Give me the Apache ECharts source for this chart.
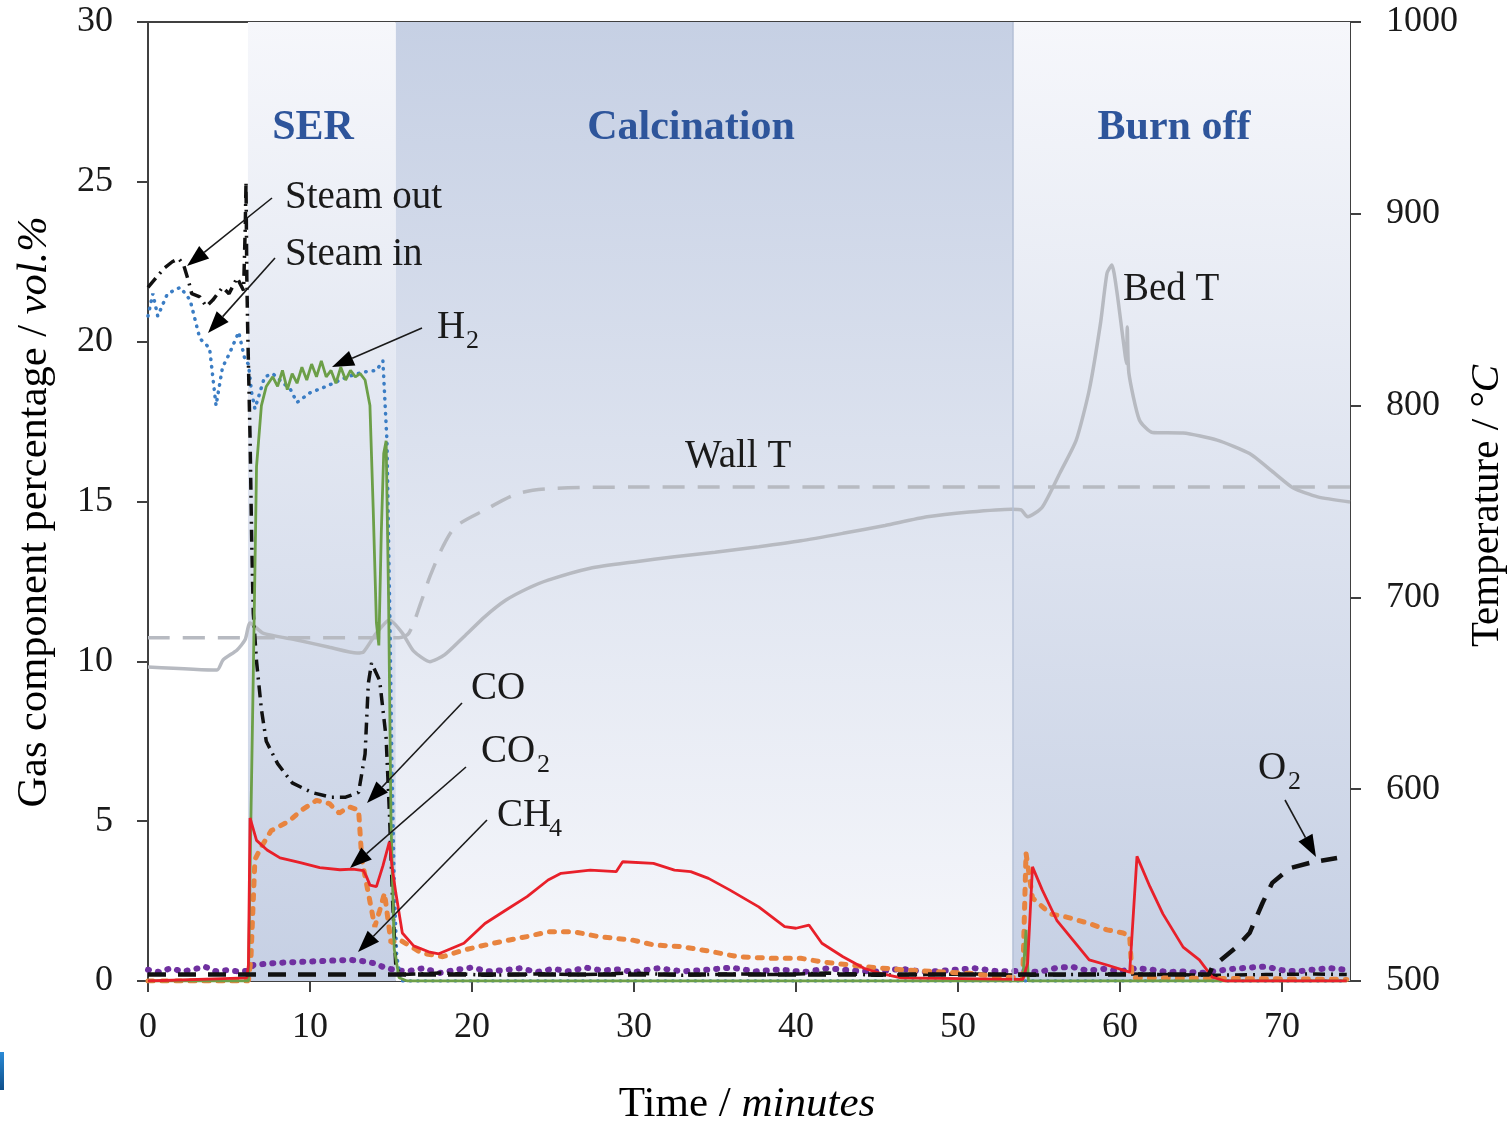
<!DOCTYPE html>
<html>
<head>
<meta charset="utf-8">
<title>Gas composition and temperature</title>
<script src="https://cdn.jsdelivr.net/npm/echarts@6/dist/echarts.min.js"></script>
<style>
html, body { margin: 0; padding: 0; background: #fff; }
#chart { width: 1511px; height: 1124px; }
</style>
</head>
<body>
<div id="chart"></div>
<script>
// x ticks
const timeTicks = [0, 10, 20, 30, 40, 50, 60, 70];

// process stages (minutes)
const stageNames = ['SER', 'Calcination', 'Burn off'];
const stageStart = [6.17, 15.3, 53.4];
const stageEnd = [15.3, 53.4, 74.2];

// Steam out
const steamOutT = [0, 0.5, 1.0, 1.5, 1.9, 2.2, 2.5, 2.7, 3.2, 3.6, 4.0, 4.6, 5.0, 5.5, 5.9,
  6.0, 6.05, 6.1, 6.15, 6.2, 6.3, 6.4, 6.5, 6.7, 7.0, 7.3, 8.0, 8.9, 10.1, 11.3,
  12.2, 13.0, 13.4, 13.6, 13.8, 14.3, 14.7, 14.9, 15.1, 15.3, 15.6, 18, 21, 24, 27,
  30, 33, 36, 39, 42, 45, 48, 51, 54, 57, 60, 63, 66, 69, 72, 74];
const steamOutV = [21.7, 22.0, 22.3, 22.5, 22.6, 22.4, 21.9, 21.5, 21.4, 21.1, 21.3, 21.7, 21.5, 22.0, 21.6,
  23.5, 25.0, 22.0, 20.5, 19.3, 17.0, 13.8, 11.5, 10.0, 8.5, 7.5, 6.8, 6.2, 5.9, 5.75,
  5.75, 5.9, 7.1, 9.3, 9.95, 9.4, 7.6, 5.3, 2.5, 0.44, 0.2, 0.25, 0.18, 0.22, 0.2,
  0.25, 0.18, 0.22, 0.2, 0.25, 0.18, 0.2, 0.22, 0.18, 0.2, 0.22, 0.2, 0.18, 0.2, 0.22, 0.2];

// Steam in
const steamInT = [0, 0.3, 0.6, 1.2, 2.0, 2.6, 3.2, 3.8, 4.2, 4.6, 5.0, 5.6, 6.0, 6.2, 6.4,
  6.6, 7.2, 7.7, 8.8, 9.2, 10.0, 11.0, 12.3, 13.3, 14.1, 14.5, 14.75, 14.85, 14.95, 15.05,
  15.2, 15.35, 15.6, 74];
const steamInV = [20.8, 21.5, 20.8, 21.5, 21.7, 21.3, 20.1, 19.8, 18.0, 19.2, 19.6, 20.3, 19.4, 19.3, 18.4,
  17.9, 18.9, 19.0, 18.5, 18.1, 18.4, 18.6, 18.9, 19.05, 19.1, 19.4, 16.9, 13.8, 10.7, 7.0,
  3.0, 0.8, 0, 0];

// H2
const h2T = [0, 6.2, 6.35, 6.5, 6.7, 7.0, 7.3, 7.7, 8.0, 8.3, 8.6, 8.9, 9.2, 9.5, 9.8,
  10.1, 10.4, 10.7, 11.0, 11.3, 11.6, 11.9, 12.2, 12.5, 12.8, 13.1, 13.4, 13.7, 13.9, 14.1,
  14.25, 14.4, 14.55, 14.7, 14.85, 15.0, 15.2, 15.5, 16, 54.0, 54.2, 54.35, 74];
const h2V = [0, 0, 5, 9.6, 16.1, 18.0, 18.6, 18.9, 18.6, 19.1, 18.5, 19.0, 18.7, 19.2, 18.8,
  19.3, 18.9, 19.4, 18.9, 19.1, 18.7, 19.2, 18.8, 19.1, 18.9, 19.0, 18.8, 18.0, 14.8, 11.2,
  10.5, 14.0, 16.5, 16.9, 12.0, 5.0, 1.0, 0.1, 0, 0, 1.6, 0, 0];

// CO
const coT = [0, 6.2, 6.35, 6.6, 7.0, 7.6, 8.7, 9.5, 10.4, 11.2, 11.8, 12.4, 13.0, 13.2, 13.6,
  14.0, 14.3, 14.6, 15.0, 15.5, 15.9, 16.9, 18.2, 19.5, 21.3, 23.4, 24.7, 26.3, 27.8, 29.9,
  31.2, 33.0, 34.8, 36.4, 38.5, 40.3, 41.6, 44.2, 46.8, 50.7, 52.5, 54.0, 54.2, 54.6, 55.7,
  56.7, 58.1, 59.2, 60.2, 60.6, 60.75, 74];
const coV = [0, 0, 0.66, 3.8, 4.2, 4.7, 5.0, 5.35, 5.65, 5.55, 5.25, 5.45, 5.35, 3.8, 2.75,
  1.7, 2.2, 2.75, 1.2, 1.3, 1.18, 0.87, 0.76, 0.97, 1.18, 1.39, 1.54, 1.54, 1.39, 1.28,
  1.13, 1.07, 0.92, 0.76, 0.71, 0.71, 0.6, 0.45, 0.34, 0.24, 0.13, 0.1, 4.0, 2.6, 2.1,
  2.0, 1.8, 1.6, 1.5, 1.4, 0.1, 0.05];

// CO2
const co2T = [0, 6.1, 6.2, 6.3, 6.7, 7.35, 8.15, 9.4, 10.6, 11.85, 12.65, 13.3, 13.5, 13.7, 14.1,
  14.5, 14.9, 15.06, 15.3, 15.7, 16.4, 17.4, 17.95, 19.5, 20.8, 22.1, 23.4, 24.7, 25.5, 27.3,
  28.9, 29.3, 31.2, 32.5, 33.5, 34.6, 35.9, 37.7, 39.3, 40.0, 40.8, 41.6, 42.9, 44.2, 45.2,
  46.5, 54.0, 54.3, 54.6, 55.2, 56.1, 57.1, 58.1, 59.2, 60.2, 60.6, 61.05, 61.85, 62.65, 63.9,
  64.9, 65.7, 66.5, 74];
const co2V = [0, 0.1, 0.5, 5.1, 4.4, 4.1, 3.85, 3.7, 3.55, 3.48, 3.5, 3.45, 3.25, 3.0, 2.95,
  3.6, 4.35, 3.6, 2.75, 1.5, 1.1, 0.9, 0.85, 1.18, 1.8, 2.22, 2.64, 3.16, 3.37, 3.47,
  3.42, 3.73, 3.68, 3.47, 3.42, 3.21, 2.85, 2.32, 1.7, 1.65, 1.75, 1.18, 0.76, 0.4, 0.24,
  0.1, 0.05, 0.56, 3.57, 2.85, 1.9, 1.28, 0.66, 0.5, 0.34, 0.28, 3.9, 2.95, 2.1, 1.06,
  0.66, 0.12, 0, 0];

// CH4
const ch4T = [0, 0.7, 1.4, 2.1, 2.8, 3.5, 4.2, 4.9, 5.6, 6.2,
  6.5, 7.5, 8.5, 9.5, 10.5, 11.5, 12.5, 13.3, 14.0, 14.6,
  15.2, 16, 17, 18, 19, 20, 21, 22, 23, 24,
  25, 26, 27, 28, 29, 30, 31.5, 33, 34.5, 36,
  37.5, 39, 40.5, 42, 43.5, 45, 46.5, 48, 49.5, 51,
  52.5, 54, 55, 56, 57, 58, 59, 60, 61, 62,
  63, 64, 65, 66, 67, 68, 69, 70, 71, 72,
  73, 74];
const ch4V = [0.35, 0.28, 0.40, 0.30, 0.36, 0.45, 0.30, 0.34, 0.30, 0.32,
  0.50, 0.55, 0.58, 0.60, 0.62, 0.64, 0.66, 0.62, 0.55, 0.42,
  0.35, 0.30, 0.40, 0.25, 0.35, 0.42, 0.30, 0.34, 0.40, 0.28,
  0.38, 0.30, 0.42, 0.33, 0.36, 0.28, 0.40, 0.30, 0.35, 0.42,
  0.30, 0.36, 0.28, 0.40, 0.32, 0.30, 0.38, 0.28, 0.34, 0.40,
  0.30, 0.32, 0.28, 0.40, 0.45, 0.32, 0.38, 0.30, 0.40, 0.35,
  0.28, 0.30, 0.25, 0.32, 0.38, 0.42, 0.45, 0.34, 0.30, 0.36,
  0.40, 0.35];

// O2
const o2T = [0, 65.5, 65.7, 67.2, 68.0, 68.8, 69.4, 70.5, 71.9, 73.4];
const o2V = [0.2, 0.2, 0.44, 1.06, 1.5, 2.44, 3.07, 3.53, 3.72, 3.85];

// Bed temperature (°C)
const bedT = [0, 4.26, 4.63, 5.5, 6.0, 6.3, 7.1, 9.2, 11.2, 12.9, 13.3, 14.1, 14.9, 15.7, 16.4,
  17.4, 18.3, 19.5, 20.8, 22.1, 23.4, 24.7, 27.3, 30.0, 32.5, 35.0, 37.7, 40.3, 42.9, 45.5,
  48.1, 50.7, 53.3, 53.9, 54.3, 55.2, 56.3, 57.3, 58.1, 58.8, 59.2, 59.5, 59.8, 60.2, 60.4,
  60.45, 60.55, 61.2, 62.0, 63.9, 66.0, 68.0, 69.5, 70.7, 72.2, 74.2];
const bedV = [663.7, 662.1, 667.4, 672.6, 678, 686.6, 681.4, 677.8, 674, 671, 671.5, 681.4, 688.2, 681.4, 672,
  666.5, 670, 679.5, 690, 698.6, 704.5, 709, 715.2, 718.5, 721.2, 723.5, 726.4, 729.5, 733.4, 737.5,
  742, 744.5, 746, 745.6, 742, 747, 765, 782, 808, 843, 869, 873.3, 860, 834, 822,
  841, 817, 792.5, 786, 785.7, 782, 775, 765, 757, 752.4, 749.7];

// Wall temperature (°C)
const wallT = [0, 15.5, 16.1, 16.9, 17.4, 18.2, 19.0, 20.8, 22.9, 25.2, 30, 74.2];
const wallV = [679, 679, 681.3, 698.6, 710.8, 726.4, 736.9, 745.6, 754.3, 756.9, 757.5, 757.5];

const FONT = 'Liberation Serif';
const AXIS_COLOR = '#404040';
const TEXT_COLOR = '#1a1a1a';
const STAGE_COLOR = '#2e559b';

function pairs(t, v) {
    return t.map((x, i) => [x, v[i]]);
}

// vertical gradient for the stage bands
function grad(top, bottom) {
    return {
        type: 'linear', x: 0, y: 0, x2: 0, y2: 1,
        colorStops: [{ offset: 0, color: top }, { offset: 1, color: bottom }]
    };
}
const LIGHT = '#f6f7fb';
const DARK = '#c6d0e4';
const stageFill = [grad(LIGHT, DARK), grad(DARK, LIGHT), grad(LIGHT, DARK)];

function lineSeries(name, t, v, style, yIndex) {
    return {
        name: name,
        type: 'line',
        data: pairs(t, v),
        yAxisIndex: yIndex || 0,
        showSymbol: false,
        symbol: 'none',
        silent: true,
        lineStyle: style
    };
}

const chart = echarts.init(document.getElementById('chart'));

const axisLineStyle = { show: true, onZero: false, lineStyle: { color: AXIS_COLOR, width: 2 } };
const tickStyle = { show: true, inside: false, length: 11, lineStyle: { color: AXIS_COLOR, width: 2 } };
const labelStyle = { color: TEXT_COLOR, fontFamily: FONT, fontSize: 36 };

// annotation texts (pixel layout)
function text(x, y, str, size, extra) {
    return {
        type: 'text',
        x: x, y: y,
        z: 100,
        silent: true,
        style: Object.assign({
            text: str,
            fill: TEXT_COLOR,
            fontSize: size || 39,
            fontFamily: FONT,
            align: 'left',
            verticalAlign: 'middle'
        }, extra || {})
    };
}

function arrow(x1, y1, x2, y2) {
    const dx = x2 - x1, dy = y2 - y1;
    const L = Math.hypot(dx, dy), ux = dx / L, uy = dy / L;
    const hl = 22, hw = 8;
    const bx = x2 - ux * hl, by = y2 - uy * hl;
    return [
        { type: 'line', silent: true, z: 100, shape: { x1: x1, y1: y1, x2: bx, y2: by },
          style: { stroke: '#1a1a1a', lineWidth: 1.6 } },
        { type: 'polygon', silent: true, z: 100,
          shape: { points: [[x2, y2], [bx - uy * hw, by + ux * hw], [bx + uy * hw, by - ux * hw]] },
          style: { fill: '#000' } }
    ];
}

const arrows = [
    [272, 198, 187, 266],   // steam out
    [275, 258, 208, 333],   // steam in
    [422, 328, 332, 367],   // H2
    [462, 703, 367, 803],   // CO
    [466, 767, 350, 868],   // CO2
    [487, 820, 358, 952],   // CH4
    [1285, 800, 1316, 857]  // O2
];

const graphics = [];
arrows.forEach(a => graphics.push(...arrow(a[0], a[1], a[2], a[3])));

// stage titles
const stageCenters = [313, 691, 1174];
stageNames.forEach((n, i) => {
    graphics.push(text(stageCenters[i], 128, n, 42, {
        fill: STAGE_COLOR, fontWeight: 'bold', align: 'center'
    }));
});

graphics.push(text(285, 198, 'Steam out'));
graphics.push(text(285, 255, 'Steam in'));
graphics.push(text(437, 328, 'H'));
graphics.push(text(466, 341, '2', 26));
graphics.push(text(685, 457, 'Wall T'));
graphics.push(text(1123, 290, 'Bed T'));
graphics.push(text(471, 689, 'CO'));
graphics.push(text(481, 752, 'CO'));
graphics.push(text(537, 765, '2', 26));
graphics.push(text(497, 816, 'CH'));
graphics.push(text(549, 829, '4', 26));
graphics.push(text(1258, 769, 'O'));
graphics.push(text(1288, 782, '2', 26));

// axis titles
function titleRich(size) {
    return {
        n: { fontFamily: FONT, fontSize: size, color: TEXT_COLOR },
        i: { fontFamily: FONT, fontSize: size, fontStyle: 'italic', color: TEXT_COLOR }
    };
}
graphics.push({
    type: 'text', x: 35, y: 512, rotation: Math.PI / 2, silent: true,
    style: { text: '{n|Gas component percentage / }{i|vol.%}', rich: titleRich(42.5),
             align: 'center', verticalAlign: 'middle' }
});
graphics.push({
    type: 'text', x: 1487, y: 506, rotation: Math.PI / 2, silent: true,
    style: { text: '{n|Temperature / }{i|°C}', rich: titleRich(41),
             align: 'center', verticalAlign: 'middle' }
});
graphics.push({
    type: 'text', x: 747, y: 1105, silent: true,
    style: { text: '{n|Time / }{i|minutes}', rich: titleRich(43),
             align: 'center', verticalAlign: 'middle' }
});

// small blue mark at the lower left edge of the picture
graphics.push({
    type: 'rect', silent: true, shape: { x: 0, y: 1052, width: 4, height: 38 },
    style: { fill: grad('#2a8ad6', '#0e4f8a') }
});

const option = {
    animation: false,
    backgroundColor: '#fff',
    grid: { left: 148, top: 22, width: 1202, height: 959, containLabel: false },
    xAxis: [{
        type: 'value', min: 0, max: 74.2, interval: 10,
        axisLine: axisLineStyle,
        axisTick: Object.assign({ customValues: timeTicks }, tickStyle),
        axisLabel: Object.assign({ margin: 29, customValues: timeTicks }, labelStyle),
        splitLine: { show: false }
    }, {
        type: 'value', position: 'top', min: 0, max: 74.2,
        axisLine: axisLineStyle,
        axisTick: { show: false }, axisLabel: { show: false }, splitLine: { show: false }
    }],
    yAxis: [{
        type: 'value', min: 0, max: 30, interval: 5, position: 'left',
        axisLine: axisLineStyle, axisTick: tickStyle,
        axisLabel: Object.assign({ margin: 35 }, labelStyle),
        splitLine: { show: false }
    }, {
        type: 'value', min: 500, max: 1000, interval: 100, position: 'right',
        axisLine: axisLineStyle, axisTick: tickStyle,
        axisLabel: Object.assign({ margin: 36, formatter: v => String(v) }, labelStyle),
        splitLine: { show: false }
    }],
    series: [
        Object.assign(lineSeries('Bed T', bedT, bedV, { color: '#b7bac1', width: 3.5 }, 1), {
            smooth: 0.2,
            markArea: {
                silent: true,
                data: stageNames.map((n, i) => [
                    { xAxis: stageStart[i], itemStyle: { color: stageFill[i] } },
                    { xAxis: stageEnd[i] }
                ])
            }
        }),
        Object.assign(lineSeries('Wall T', wallT, wallV, { color: '#b7bac1', width: 3.5, type: [22, 13] }, 1), {
            smooth: 0.3,
            markLine: {
                silent: true, symbol: 'none', label: { show: false },
                lineStyle: { color: '#b3bfd6', width: 1.5, type: 'solid' },
                data: [{ xAxis: stageEnd[1] }]
            }
        }),
        lineSeries('CH4', ch4T, ch4V, { color: '#7030a0', width: 6, type: [1, 9], cap: 'round' }),
        lineSeries('Steam in', steamInT, steamInV, { color: '#3b7dc4', width: 3.5, type: [0.5, 7], cap: 'round' }),
        lineSeries('Steam out', steamOutT, steamOutV, { color: '#111', width: 3.5, type: [12, 6, 2, 6] }),
        lineSeries('CO', coT, coV, { color: '#e8843f', width: 5, type: [5, 9], cap: 'round' }),
        lineSeries('H2', h2T, h2V, { color: '#6c9f48', width: 2.8 }),
        lineSeries('CO2', co2T, co2V, { color: '#e8202a', width: 2.8 }),
        lineSeries('O2', o2T, o2V, { color: '#111', width: 4.5, type: [18, 12] })
    ],
    graphic: graphics
};

chart.setOption(option);
</script>
</body>
</html>
